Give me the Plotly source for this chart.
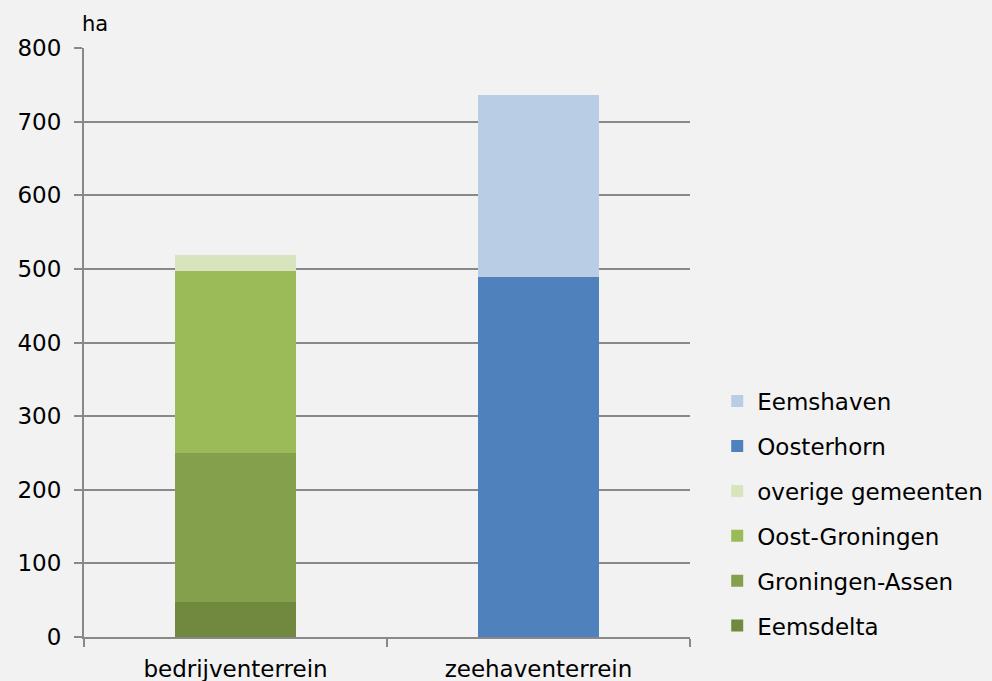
import plotly.graph_objects as go

categories = ["bedrijventerrein", "zeehaventerrein"]
eemsdelta = [48, 0]
groningen_assen = [202, 0]
oost_groningen = [247, 0]
overige = [22, 0]
oosterhorn = [0, 489]
eemshaven = [0, 247]
y_ticks = [0, 100, 200, 300, 400, 500, 600, 700, 800]

series = [
    ("Eemsdelta", eemsdelta, "#71893f"),
    ("Groningen-Assen", groningen_assen, "#84a04c"),
    ("Oost-Groningen", oost_groningen, "#9bbb59"),
    ("overige gemeenten", overige, "#d7e4bd"),
    ("Oosterhorn", oosterhorn, "#4f81bd"),
    ("Eemshaven", eemshaven, "#b9cde5"),
]

fig = go.Figure()
n = len(series)
for i, (name, vals, col) in enumerate(series):
    fig.add_trace(go.Bar(x=categories, y=vals, name=name, marker_color=col,
                         marker_line_width=0, legendgroup=name,
                         legendrank=(n - i) * 10))

font = "DejaVu Sans, Verdana, sans-serif"
fig.update_layout(
    barmode="stack", bargap=0.6,
    width=992, height=681,
    paper_bgcolor="#f2f2f2", plot_bgcolor="#f2f2f2",
    margin=dict(l=84, r=302, t=48, b=44, autoexpand=False),
    font=dict(family=font, size=23, color="#000000"),
    legend=dict(traceorder="grouped", xref="container", yref="container",
                x=0.723, y=0.049, xanchor="left", yanchor="bottom",
                tracegroupgap=12, font=dict(size=23), bgcolor="rgba(0,0,0,0)",
                itemwidth=30),
    showlegend=True,
    xaxis=dict(range=[-0.5, 1.5], showline=True, linecolor="#898989", linewidth=2,
               ticks="outside", tickson="boundaries", ticklen=8, tickcolor="#898989",
               tickwidth=2, showgrid=False, tickfont=dict(size=23), automargin=False,
               ticklabelstandoff=10),
    yaxis=dict(range=[0, 800], tickvals=y_ticks, showline=True, linecolor="#898989",
               linewidth=2, ticks="outside", ticklen=8, tickcolor="#898989", tickwidth=2,
               gridcolor="#898989", gridwidth=2, zeroline=False, tickfont=dict(size=23),
               automargin=False, ticklabelstandoff=8),
    annotations=[dict(text="ha", xref="paper", yref="paper", x=0.0, y=1.0,
                      xanchor="left", yanchor="bottom", showarrow=False,
                      font=dict(size=21), xshift=-4, yshift=10)],
)

fig.write_html("out.html", config={"displayModeBar": False},
               post_script="document.body.style.margin='0';document.body.style.background='#f2f2f2';")
